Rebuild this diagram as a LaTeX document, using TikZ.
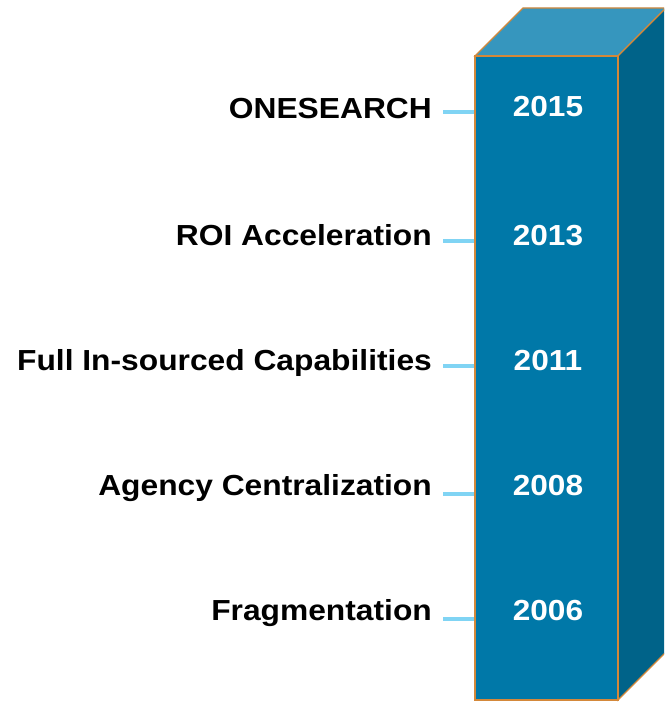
\documentclass[tikz,border=0pt]{standalone}
\usepackage{graphicx}
\usepackage{fontspec}
\setmainfont{Liberation Sans}
\definecolor{frontc}{HTML}{0078A8}
\definecolor{topc}{HTML}{3696BE}
\definecolor{sidec}{HTML}{006389}
\definecolor{edgec}{HTML}{D4883A}
\definecolor{connc}{HTML}{80D4F4}
\newcommand{\labtxt}[1]{\scalebox{1.095}[1]{#1}}
\newcommand{\yrtxt}[1]{\scalebox{1.09}[1]{#1}}
\tikzset{
  face/.style={draw=edgec, line width=1.2pt, line join=miter},
  lab/.style={anchor=base east, inner sep=0pt, font=\fontsize{29}{31}\selectfont\bfseries, text=black},
  yr/.style={anchor=base, inner sep=0pt, font=\fontsize{29}{31}\selectfont\bfseries, text=white},
  conn/.style={draw=connc, line width=4pt}
}
\begin{document}
\begin{tikzpicture}[x=1pt,y=1pt]
\useasboundingbox[fill=white] (0,0) rectangle (664,704);
\begin{scope}
\clip (0,0) rectangle (664,704);
% top face
\filldraw[face, fill=topc] (475,648) -- (523,696) -- (666,696) -- (618,648) -- cycle;
% right face
\filldraw[face, fill=sidec] (618,648) -- (666,696) -- (666,52) -- (618,4) -- cycle;
% front face
\filldraw[face, fill=frontc] (475,4) rectangle (618,648);
\end{scope}
% years
\node[yr] (y15) at (548,587) {\yrtxt{2015}};
\node[yr] (y13) at (548,458) {\yrtxt{2013}};
\node[yr] (y11) at (548,333) {\yrtxt{2011}};
\node[yr] (y08) at (548,208) {\yrtxt{2008}};
\node[yr] (y06) at (548,83) {\yrtxt{2006}};
% labels
\node[lab] (l15) at (432,585) {\labtxt{ONESEARCH}};
\node[lab] (l13) at (432,458) {\labtxt{ROI Acceleration}};
\node[lab] (l11) at (432,333) {\labtxt{Full In-sourced Capabilities}};
\node[lab] (l08) at (432,208) {\labtxt{Agency Centralization}};
\node[lab] (l06) at (432,83) {\labtxt{Fragmentation}};
% connectors
\foreach \n/\y in {15/592, 13/463, 11/338, 08/210, 06/85} {
  \coordinate (a\n) at (443,\y);
  \coordinate (b\n) at (474,\y);
  \draw[conn] (a\n) -- (b\n);
}
\end{tikzpicture}
\end{document}
